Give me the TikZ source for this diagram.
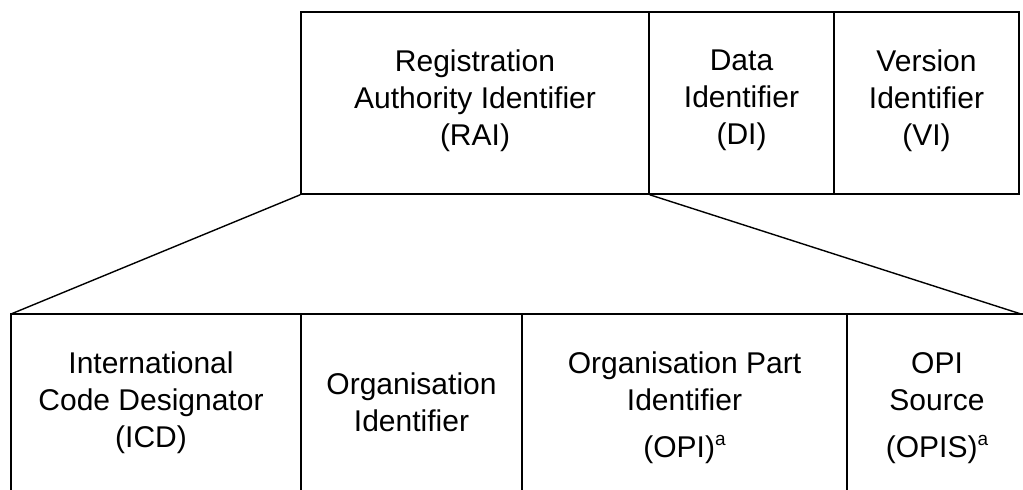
\documentclass[tikz,border=0pt]{standalone}
\usepackage{fontspec}
\setmainfont{Liberation Sans}
\newcommand{\supa}{\raisebox{12pt}{\fontsize{19}{19}\selectfont a}}
\begin{document}
\begin{tikzpicture}[x=1pt,y=-1pt,
  ln/.style={line width=1.6pt, line cap=rect},
  topbox/.style={draw, line width=1.6pt, minimum height=182pt, inner sep=0pt, align=center,
     text depth=11pt, font=\fontsize{30}{37}\selectfont},
  celltext/.style={anchor=north, inner sep=0pt, align=center, font=\fontsize{30}{37}\selectfont}]
\useasboundingbox (0,0) rectangle (1023,490);
% top row
\node[topbox, minimum width=348pt] (rai) at (475,103) {Registration\\Authority Identifier\\(RAI)};
\node[topbox, minimum width=185pt] (di) at (741.5,103) {Data\\Identifier\\(DI)};
\node[topbox, minimum width=185pt] (vi) at (926.5,103) {Version\\Identifier\\(VI)};
% bottom row frame
\coordinate (bl) at (11,314);
\coordinate (br) at (1023,314);
\coordinate (br2) at (1021,314);
\coordinate (d1) at (301,314);
\coordinate (d2) at (522,314);
\coordinate (d3) at (847,314);
\draw[ln] (bl) -- (br);
\draw[ln] (bl) -- (11,490);
\draw[ln] (d1) -- (301,490);
\draw[ln] (d2) -- (522,490);
\draw[ln] (d3) -- (847,490);
% expansion lines
\draw[line width=1.4pt] (rai.south west) -- (bl);
\draw[line width=1.4pt] (rai.south east) -- (br2);
% bottom texts
\node[celltext] (icd) at (151,352) {International\\Code Designator\\(ICD)};
\node[celltext] (oid) at (411.5,373) {Organisation\\Identifier};
\node[celltext] (opi) at (684.5,352) {Organisation Part\\Identifier\\[10pt](OPI)\supa};
\node[celltext] (opis) at (937,352) {OPI\\Source\\[10pt](OPIS)\supa};
\end{tikzpicture}
\end{document}
